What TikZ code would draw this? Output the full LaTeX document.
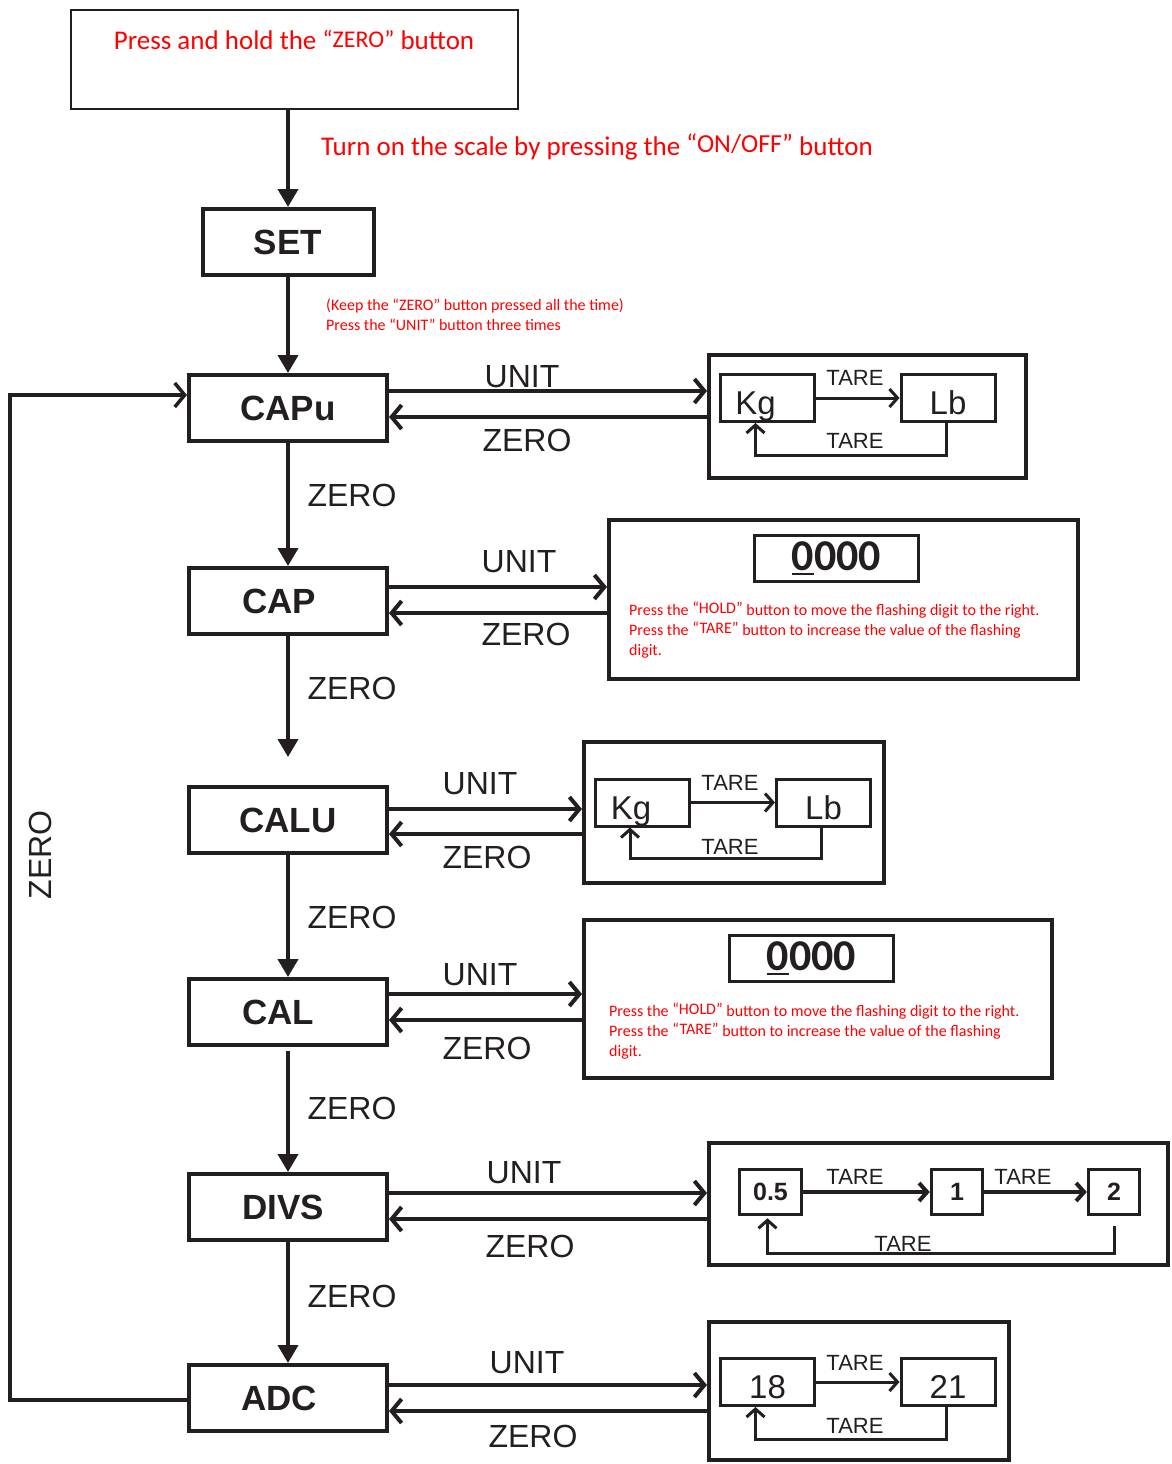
\documentclass[tikz,border=0pt]{standalone}
\usepackage{fontspec}
\setmainfont{Liberation Sans}
\newfontfamily\calfont{Carlito}
\usetikzlibrary{arrows.meta,calc}
\definecolor{ink}{RGB}{35,31,32}
\newcommand\fs[1]{\fontsize{#1}{#1}\selectfont}
\newcommand\ulzero{\setbox0\hbox{0}\rlap{\rule[-5pt]{\wd0}{2.8pt}}0}
\begin{document}
\begin{tikzpicture}[x=1pt,y=-1pt,
  mainbox/.style={draw=ink,line width=4pt,inner sep=0pt,minimum width=198pt,minimum height=66pt,font=\fs{35}\bfseries,text=ink},
  sidebox/.style={draw=ink,line width=4pt,inner sep=0pt},
  inbox/.style={draw=ink,line width=3pt,inner sep=0pt,minimum width=94pt,minimum height=47pt,font=\fs{33},text=ink,text height=35pt,text depth=2pt},
  numbox/.style={draw=ink,line width=3.5pt,inner sep=0pt,minimum width=51pt,minimum height=45pt,font=\fs{25}\bfseries,text=ink},
  zbox/.style={draw=ink,line width=3pt,inner sep=0pt,minimum width=164pt,minimum height=46pt,font=\calfont\fs{44}\bfseries,text=ink},
  vconn/.style={draw=ink,line width=4pt,-{Triangle[length=18pt,width=20pt]}},
  hconn/.style={draw=ink,line width=4pt,-{Straight Barb[length=10pt,width=24pt]}},
  tconn/.style={draw=ink,line width=3pt,-{Straight Barb[length=8pt,width=18pt]}},
  lbl/.style={font=\fs{32},text=ink,inner sep=0pt},
  tlbl/.style={font=\fs{22},text=ink,inner sep=0pt},
  redbig/.style={font=\calfont\fs{27},text=red,inner sep=0pt},
  redsmall/.style={font=\calfont\fontsize{16}{20}\selectfont,text=red,inner sep=0pt,align=left}
]
\useasboundingbox (0,0) rectangle (1171,1464);

% top box and instructions
\node[draw=ink,line width=2.5pt,minimum width=447pt,minimum height=99pt,inner sep=0pt] (top) at (294.5,59.5) {};
\node[redbig] (toptext) at (294,40) {Press and hold the {\fs{24}\raisebox{2pt}{“ZERO”}} button};
\node[redbig,anchor=west] (ontext) at (321,147) {Turn on the scale by pressing the {\fs{26}\raisebox{3pt}{“ON/OFF”}} button};
\node[redsmall,anchor=north west] (keeptext) at (326,299) {(Keep the “ZERO” button pressed all the time)\\Press the “UNIT” button three times};

% main chain
\node[mainbox,minimum width=171pt] (set) at (288,242) {SET};
\node[mainbox] (capu) at (288,408) {CAPu};
\node[mainbox] (cap) at (288,601) {CAP\kern18pt};
\node[mainbox] (calu) at (288,820) {CALU};
\node[mainbox] (cal) at (288,1012) {CAL\kern20pt};
\node[mainbox] (divs) at (288,1207) {DIVS\kern10pt};
\node[mainbox] (adc) at (288,1398) {ADC\kern18pt};

\draw[vconn] (top.south -| set.north) -- (set.north);
\draw[vconn] (set.south) -- (capu.north);
\draw[vconn] (capu.south) -- (cap.north);
\draw[vconn] (cap.south) -- ([yshift=28pt]calu.north);
\draw[vconn] (calu.south) -- (cal.north);
\draw[vconn,shorten <=4pt] (cal.south) -- (divs.north);
\draw[vconn] (divs.south) -- (adc.north);

\node[lbl] (z1) at (352,495) {ZERO};
\node[lbl] (z2) at (352,688) {ZERO};
\node[lbl] (z3) at (352,917) {ZERO};
\node[lbl] (z4) at (352,1108) {ZERO};
\node[lbl] (z5) at (352,1296) {ZERO};

% side boxes
\node[sidebox,minimum width=317pt,minimum height=123pt] (box1) at (867.5,416.5) {};
\node[sidebox,minimum width=469pt,minimum height=159pt] (box2) at (843.5,599.5) {};
\node[sidebox,minimum width=300pt,minimum height=141pt] (box3) at (734,812.5) {};
\node[sidebox,minimum width=468pt,minimum height=158pt] (box4) at (818,999) {};
\node[sidebox,minimum width=459pt,minimum height=122pt] (box5) at (938.5,1204) {};
\node[sidebox,minimum width=300pt,minimum height=138pt] (box6) at (859,1391) {};

% horizontal connectors
\coordinate (u1) at ([yshift=17pt]capu.east);  \coordinate (r1) at ([yshift=-9pt]capu.east);
\coordinate (u2) at ([yshift=14pt]cap.east);   \coordinate (r2) at ([yshift=-12pt]cap.east);
\coordinate (u3) at ([yshift=11pt]calu.east);  \coordinate (r3) at ([yshift=-14pt]calu.east);
\coordinate (u4) at ([yshift=18pt]cal.east);   \coordinate (r4) at ([yshift=-8pt]cal.east);
\coordinate (u5) at ([yshift=14pt]divs.east);  \coordinate (r5) at ([yshift=-12pt]divs.east);
\coordinate (u6) at ([yshift=13pt]adc.east);   \coordinate (r6) at ([yshift=-13pt]adc.east);

\draw[hconn] (u1) -- (u1 -| box1.west);  \draw[hconn] (r1 -| box1.west) -- (r1);
\draw[hconn] (u2) -- (u2 -| box2.west);  \draw[hconn] (r2 -| box2.west) -- (r2);
\draw[hconn] (u3) -- (u3 -| box3.west);  \draw[hconn] (r3 -| box3.west) -- (r3);
\draw[hconn] (u4) -- (u4 -| box4.west);  \draw[hconn] (r4 -| box4.west) -- (r4);
\draw[hconn] (u5) -- (u5 -| box5.west);  \draw[hconn] (r5 -| box5.west) -- (r5);
\draw[hconn] (u6) -- (u6 -| box6.west);  \draw[hconn] (r6 -| box6.west) -- (r6);

\node[lbl] (lu1) at (522,377) {UNIT};  \node[lbl] (lz1) at (527,440) {ZERO};
\node[lbl] (lu2) at (519,562) {UNIT};  \node[lbl] (lz2) at (526,634) {ZERO};
\node[lbl] (lu3) at (480,784) {UNIT};  \node[lbl] (lz3) at (487,857) {ZERO};
\node[lbl] (lu4) at (480,975) {UNIT};  \node[lbl] (lz4) at (487,1048) {ZERO};
\node[lbl] (lu5) at (524,1173) {UNIT}; \node[lbl] (lz5) at (530,1246) {ZERO};
\node[lbl] (lu6) at (527,1363) {UNIT}; \node[lbl] (lz6) at (533,1436) {ZERO};

% left return loop
\coordinate (lpb) at (10,1400);
\coordinate (lpt) at (10,395);
\draw[hconn,line width=3.5pt] (adc.west |- lpb) -- (lpb) -- (lpt) -- (lpt -| capu.west);
\node[lbl,rotate=90] (lz0) at (40,855) {ZERO};

% box 1 : Kg / Lb
\node[inbox] (kg1) at (767.5,398) {Kg\kern24pt};
\node[inbox] (lb1) at (948,398) {Lb};
\draw[tconn] (kg1.east) -- (lb1.west);
\draw[tconn] ([xshift=-2pt]lb1.south) -- ++(0,32) -| ([xshift=-12pt]kg1.south);
\node[tlbl] (t11) at (855,378) {TARE};
\node[tlbl] (t12) at (855,441) {TARE};

% box 2 : 0000
\node[zbox] (zz2) at (836.5,558.5) {\ulzero000};
\node[redsmall,anchor=north west] (h2) at (629,602) {Press the {\raisebox{1.5pt}{“HOLD”}} button to move the flashing digit to the right.\\Press the {\raisebox{1.5pt}{“TARE”}} button to increase the value of the flashing\\digit.};

% box 3 : Kg / Lb
\node[inbox] (kg3) at (642,802.5) {Kg\kern22pt};
\node[inbox] (lb3) at (823.5,802.5) {Lb};
\draw[tconn] (kg3.east) -- (lb3.west);
\draw[tconn] ([xshift=-2pt]lb3.south) -- ++(0,31) -| ([xshift=-12pt]kg3.south);
\node[tlbl] (t31) at (730,783) {TARE};
\node[tlbl] (t32) at (730,847) {TARE};

% box 4 : 0000
\node[zbox] (zz4) at (811.5,958.5) {\ulzero000};
\node[redsmall,anchor=north west] (h4) at (609,1003) {Press the {\raisebox{1.5pt}{“HOLD”}} button to move the flashing digit to the right.\\Press the {\raisebox{1.5pt}{“TARE”}} button to increase the value of the flashing\\digit.};

% box 5 : 0.5 / 1 / 2
\node[numbox,minimum width=62pt] (n05) at (770.5,1192) {0.5};
\node[numbox] (n1) at (957,1192) {1};
\node[numbox] (n2) at (1114,1192) {2};
\draw[tconn,line width=4pt] (n05.east) -- (n1.west);
\draw[tconn,line width=4pt] (n1.east) -- (n2.west);
\draw[tconn] ([yshift=-10pt]n2.south) -- ++(0,27) -| ([xshift=-3pt,yshift=-2pt]n05.south);
\node[tlbl] (t51) at (855,1177) {TARE};
\node[tlbl] (t52) at (1023,1177) {TARE};
\node[tlbl] (t53) at (903,1244) {TARE};

% box 6 : 18 / 21
\node[inbox] (n18) at (767.5,1382) {18};
\node[inbox] (n21) at (948,1382) {21};
\draw[tconn] (n18.east) -- (n21.west);
\draw[tconn] ([xshift=-2pt]n21.south) -- ++(0,32) -| ([xshift=-12pt]n18.south);
\node[tlbl] (t61) at (855,1363) {TARE};
\node[tlbl] (t62) at (855,1426) {TARE};
\end{tikzpicture}
\end{document}
